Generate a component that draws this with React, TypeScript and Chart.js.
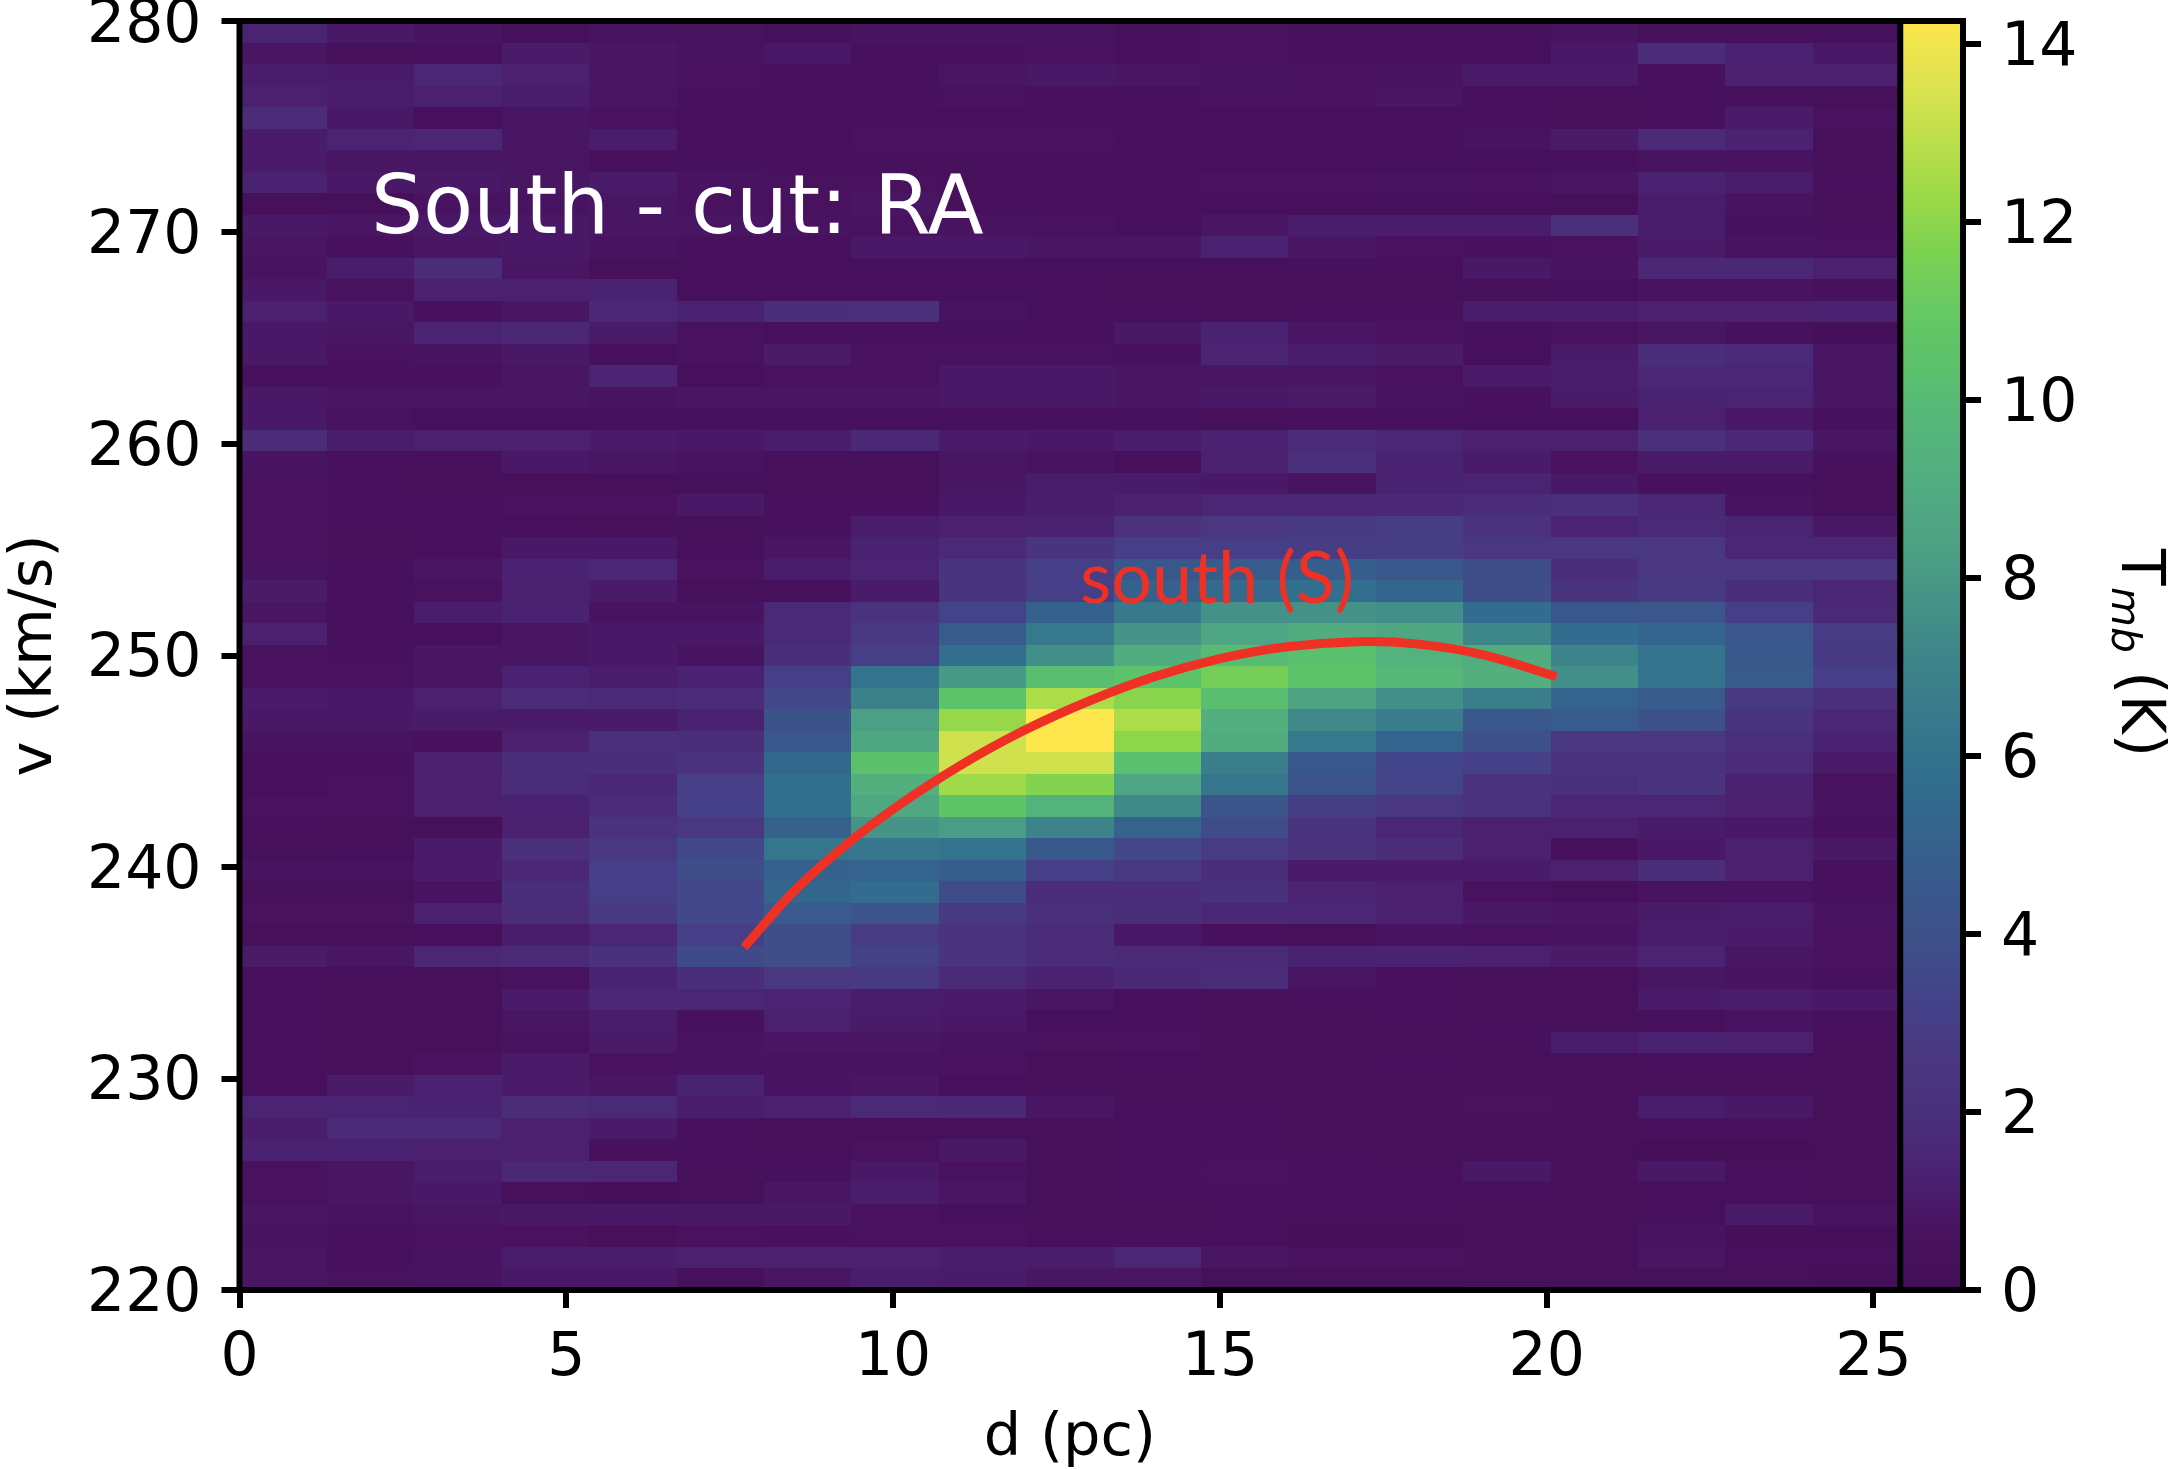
import React, { useEffect, useRef } from "react";
import { Chart, registerables } from "chart.js";

Chart.register(...registerables);

const xTicksMax = 26.37; // axis runs on under the colorbar
const imageMaxD = 25.41;
const vMin = 220;
const vMax = 280;
const tMax = 14.26;

// bottom to top
const cmapStops = [
  "#440e56", "#48125f", "#4a2272", "#4a2f7a", "#493880", "#44428a", "#3e5089", "#38598c", "#34648d",
  "#31708e", "#387a8c", "#3d8589", "#459487", "#4da284", "#52ad80", "#55b67a", "#5bc16c", "#66c962",
  "#7dd251", "#9cd947", "#c0df4c", "#dfe34f", "#fde74c",
];

// T_mb per channel, top row is v = 280, left column is d = 0
const tmbRows = [
  [1.4,.9,.7,.4,.7,.6,.4,.7,.7,.7,.5,.6,.5,.5,.4,.7,.3,.3,.4],
  [.8,.3,.5,1.0,.8,.7,.9,.5,.5,.6,.4,.6,.5,.4,.4,.9,1.8,1.3,.9],
  [1.1,1.0,1.5,1.2,.8,.6,.5,.5,.8,.9,.8,.7,.6,.7,1.0,1.0,.5,1.2,1.2],
  [1.2,1.1,1.2,1.1,.8,.5,.5,.5,.6,.5,.4,.6,.6,.8,.4,.4,.5,.5,.3],
  [1.8,.9,.4,.8,.6,.4,.5,.4,.4,.4,.4,.4,.4,.4,.4,.3,.5,1.0,.6],
  [1.0,1.4,1.5,.8,1.1,.4,.4,.6,.6,.6,.4,.4,.4,.4,.7,1.0,1.7,1.3,.3],
  [1.0,.8,.8,.8,.5,.5,.5,.5,.5,.5,.4,.4,.4,.4,.4,.5,.7,.7,.3],
  [1.3,.9,.9,.8,1.0,.7,.6,.6,.5,.5,.4,.6,.6,.7,.6,.8,1.3,1.1,.4],
  [.3,.3,.7,.7,.8,.6,.6,.8,.5,.5,.4,.4,.4,.4,.4,.3,1.1,.7,.3],
  [.9,.8,.9,.9,.8,.8,.7,.6,.7,.6,.4,.8,1.1,1.1,1.1,2.0,1.1,.5,.5],
  [.8,.5,.8,.9,.7,.5,.5,.9,.9,.8,.8,1.3,.8,.6,.5,.6,1.0,.7,.6],
  [.7,1.1,1.8,.8,.3,.4,.4,.4,.4,.4,.4,.4,.5,.4,.9,.7,1.6,1.6,1.2],
  [.9,.6,1.2,1.2,1.3,.4,.4,.4,.4,.4,.3,.3,.3,.3,.3,.4,.7,.7,.5],
  [1.2,.9,.5,.8,1.6,1.3,1.9,2.0,.7,.5,.4,.3,.5,.5,1.1,1.1,1.2,1.2,1.3],
  [.9,.8,1.4,1.6,1.0,.6,.4,.4,.5,.5,.9,1.3,.8,.6,.5,.6,.8,.5,.2],
  [.9,.6,.7,.9,.4,.6,1.0,.6,.6,.6,.5,1.4,1.1,1.0,.4,1.0,1.9,1.7,.8],
  [.5,.5,.5,.8,1.4,.4,.6,.6,.9,.9,.8,.8,.8,.6,1.0,1.1,1.6,1.5,.8],
  [.9,.8,.8,.8,.7,.8,.8,.8,.9,.9,.8,.9,1.0,.7,.5,1.0,1.3,1.4,.8],
  [.9,.6,.4,.4,.4,.4,.4,.4,.4,.4,.4,.3,.5,.5,.4,.4,1.2,.9,.5],
  [1.8,1.1,1.2,1.2,1.0,.9,1.1,1.6,1.0,.9,1.1,1.3,1.8,1.5,1.2,1.2,2.0,1.6,.8],
  [.7,.4,.4,.9,.8,.7,.3,.3,.8,.7,.3,1.2,2.0,1.3,1.0,.6,1.0,1.0,.5],
  [.6,.4,.3,.3,.3,.3,.3,.3,.8,1.1,1.0,.9,.7,1.3,1.4,.9,.5,.5,.3],
  [.6,.5,.5,.6,.6,.9,.5,.5,.9,1.1,1.2,1.5,1.6,1.6,1.8,2.0,1.6,.7,.3],
  [.6,.4,.4,.4,.3,.3,.5,1.1,1.2,1.3,2.2,2.5,2.7,2.9,2.2,1.4,1.7,1.4,.9],
  [.6,.3,.5,.9,.9,.4,.8,1.3,1.7,2.4,3.0,3.0,2.9,2.9,2.6,2.6,2.5,1.5,1.5],
  [.7,.5,.8,1.3,1.5,.6,1.1,1.4,2.4,3.0,4.5,4.7,4.8,4.4,3.8,1.9,2.5,2.5,2.6],
  [1.0,.5,.6,1.2,1.0,.3,.3,1.0,2.3,3.0,5.0,5.5,5.7,5.3,3.8,2.4,2.7,1.9,1.5],
  [.8,.5,1.1,1.3,.7,.7,1.7,2.2,3.3,5.0,6.5,7.7,7.7,7.5,5.6,4.4,4.3,3.0,1.7],
  [1.2,.5,.4,.8,.9,.9,1.7,2.7,4.7,6.4,7.8,8.6,9.0,8.7,7.2,5.6,5.2,4.3,2.8],
  [.6,.5,.8,.8,.9,.7,1.9,3.0,5.7,7.5,9.0,10.0,10.3,9.4,9.0,7.0,6.0,4.5,2.7],
  [.6,.6,.8,1.3,1.1,1.3,3.0,6.0,8.0,10.2,10.5,11.4,10.5,9.8,9.3,7.5,6.0,4.7,3.0],
  [1.0,.9,1.2,1.8,1.7,1.8,3.5,6.9,10.5,12.6,11.9,10.2,8.5,7.5,6.7,5.2,4.7,2.7,2.0],
  [.9,.9,1.0,1.0,1.0,1.3,4.1,8.3,12.2,14.3,12.6,9.2,7.3,6.6,4.4,4.6,3.9,2.4,1.6],
  [.7,.7,.5,1.2,2.0,1.9,4.4,8.7,13.3,14.3,12.0,9.0,6.4,5.2,3.9,2.6,2.5,2.0,1.3],
  [.4,.5,1.2,1.9,1.9,2.2,5.4,10.4,13.3,13.3,10.3,6.7,4.5,3.4,3.1,2.2,2.2,1.8,1.0],
  [.4,.6,1.2,1.8,1.6,3.0,5.7,9.3,12.4,11.8,8.6,6.2,4.2,3.3,2.2,2.0,2.3,1.3,.6],
  [.6,.6,1.2,1.3,1.8,3.1,5.7,8.8,10.6,9.5,7.3,4.2,2.9,2.5,2.2,1.6,1.5,1.2,.7],
  [.4,.3,.3,1.2,2.2,2.6,5.0,7.8,8.2,7.0,5.1,3.7,2.4,1.5,1.2,1.2,1.0,.9,.5],
  [.3,.4,1.0,2.0,2.6,3.5,6.2,6.3,6.0,4.5,3.5,2.8,2.2,1.8,1.2,.5,.9,1.2,.9],
  [.7,.7,1.0,1.6,3.0,3.8,5.0,5.2,4.8,3.0,2.7,1.9,1.0,1.0,1.0,1.2,1.9,1.2,.5],
  [.3,.3,.7,1.9,3.0,3.5,5.3,5.6,3.7,1.8,1.9,2.1,1.4,1.2,.6,.3,.7,.7,.5],
  [.6,.6,1.2,1.8,2.7,3.5,4.6,4.2,2.7,2.0,1.9,1.6,1.5,1.2,.9,.8,1.0,1.1,.7],
  [.3,.3,.4,1.1,1.5,3.0,3.8,2.8,2.3,1.8,.9,.5,.3,.7,.6,.7,1.1,1.0,.6],
  [1.0,.8,1.5,1.7,2.1,3.6,3.8,3.2,2.3,1.8,1.7,1.7,1.3,1.3,1.2,1.0,1.4,.8,.6],
  [.4,.4,.3,.6,1.3,1.9,2.5,2.7,1.7,1.3,1.6,1.8,.8,.4,.3,.3,.8,.7,.4],
  [.4,.3,.3,1.0,1.6,1.5,1.4,1.1,1.0,.8,.4,.3,.5,.5,.3,.3,1.0,1.1,.9],
  [.4,.3,.3,.8,1.1,.5,1.2,1.0,.9,.4,.5,.3,.3,.5,.5,.3,.4,.7,.4],
  [.4,.3,.3,.6,1.0,.7,.8,.8,.7,.6,.6,.3,.3,.3,.5,1.1,1.3,1.2,.5],
  [.4,.3,.6,1.0,.6,.7,.7,.7,.6,.3,.4,.3,.3,.5,.3,.3,.5,.4,.3],
  [.4,1.0,1.3,1.0,.8,1.3,.7,.8,.4,.3,.3,.3,.3,.3,.3,.3,.3,.3,.3],
  [1.4,1.4,1.3,1.8,1.7,1.1,1.2,1.7,1.6,.8,.5,.5,.3,.3,.6,.5,1.1,.9,.3],
  [1.1,1.7,1.7,1.2,1.0,.4,.3,.3,.3,.3,.4,.4,.3,.3,.3,.3,.5,.5,.3],
  [1.3,1.3,1.2,1.2,.5,.5,.4,.6,.9,.3,.4,.5,.4,.3,.3,.3,.2,.2,.3],
  [.6,.8,1.1,1.6,1.5,.5,.5,.9,.6,.3,.4,.6,.5,.5,.9,.5,.9,.4,.3],
  [.6,.8,.9,.3,.2,.3,.8,1.1,.8,.3,.4,.5,.5,.5,.4,.3,.4,.4,.3],
  [.8,.7,.8,.9,.9,.9,.9,.6,.4,.3,.3,.5,.5,.5,.3,.3,.4,1.0,.7],
  [.7,.5,.6,.6,.3,.6,.5,.6,.6,.4,.5,.4,.2,.2,.3,.3,.7,.2,.2],
  [.8,.5,.7,1.1,1.1,1.2,1.2,1.2,1.1,1.1,1.5,.8,.6,.6,.3,.3,.8,.4,.4],
  [.8,.6,.7,.9,.9,.4,.8,1.1,1.0,.8,.8,.3,.3,.3,.5,.4,.3,.3,.2],
];

const curveD = [7.72, 8.5, 9.3, 10.1, 11, 12, 13, 14, 15, 16, 17.1, 18, 19, 20.15];
const curveV = [236.2, 238.9, 241.1, 242.95, 244.75, 246.45, 247.85, 249, 249.85, 250.4, 250.65, 250.55, 250.05, 249];

const colorFor = (t: number) => {
  const f = Math.min(Math.max(t / tMax, 0), 1) * (cmapStops.length - 1);
  const i = Math.min(Math.floor(f), cmapStops.length - 2);
  const a = parseInt(cmapStops[i].slice(1), 16);
  const b = parseInt(cmapStops[i + 1].slice(1), 16);
  const mix = (s: number) => {
    const p = (a >> s) & 255;
    const q = (b >> s) & 255;
    return Math.round(p + (q - p) * (f - i));
  };
  return `rgb(${mix(16)},${mix(8)},${mix(0)})`;
};

const heatmapPlugin = {
  id: "heatmap",
  beforeDatasetsDraw(chart: any) {
    const { ctx, scales } = chart;
    const dd = imageMaxD / tmbRows[0].length;
    const dv = (vMax - vMin) / tmbRows.length;
    tmbRows.forEach((row, r) => {
      row.forEach((t, c) => {
        const x0 = Math.round(scales.x.getPixelForValue(c * dd));
        const x1 = Math.round(scales.x.getPixelForValue((c + 1) * dd));
        const y0 = Math.round(scales.y.getPixelForValue(vMax - r * dv));
        const y1 = Math.round(scales.y.getPixelForValue(vMax - (r + 1) * dv));
        ctx.fillStyle = colorFor(t);
        ctx.fillRect(x0, y0, x1 - x0, y1 - y0);
      });
    });
    // colorbar
    const left = scales.x.getPixelForValue(imageMaxD);
    const right = scales.x.right;
    const grad = ctx.createLinearGradient(0, scales.y2.getPixelForValue(0), 0, scales.y2.getPixelForValue(tMax));
    cmapStops.forEach((col, i) => grad.addColorStop(i / (cmapStops.length - 1), col));
    ctx.fillStyle = grad;
    ctx.fillRect(left, scales.y2.top, right - left, scales.y2.bottom - scales.y2.top);
  },
  afterDatasetsDraw(chart: any) {
    const { ctx, scales, chartArea } = chart;
    ctx.save();
    ctx.strokeStyle = "#000";
    ctx.lineWidth = 6;
    ctx.strokeRect(chartArea.left, chartArea.top, chartArea.right - chartArea.left, chartArea.bottom - chartArea.top);
    const div = scales.x.getPixelForValue(imageMaxD);
    ctx.beginPath();
    ctx.moveTo(div, chartArea.top);
    ctx.lineTo(div, chartArea.bottom);
    ctx.stroke();

    ctx.textBaseline = "alphabetic";
    ctx.textAlign = "left";
    ctx.fillStyle = "#fff";
    ctx.font = '82px "DejaVu Sans"';
    ctx.fillText("South - cut: RA", 371, 233);

    ctx.fillStyle = "#ee3124";
    ctx.font = "72px Lato";
    ctx.fillText("south (S)", 1080, 603);

    // x title is centred on the image, not on the axis that runs under the colorbar
    ctx.fillStyle = "#000";
    ctx.textAlign = "center";
    ctx.font = '59px "DejaVu Sans"';
    ctx.fillText("d (pc)", scales.x.getPixelForValue(imageMaxD / 2), 1455);

    // colorbar label, reads top to bottom
    ctx.textAlign = "left";
    ctx.translate(2122, 0);
    ctx.rotate(Math.PI / 2);
    ctx.font = '60px "DejaVu Sans"';
    ctx.fillText("T", 549, 0);
    ctx.font = 'italic 41px "DejaVu Sans"';
    ctx.fillText("mb", 587, 10);
    ctx.font = '60px "DejaVu Sans"';
    ctx.fillText("(K)", 671, 0);
    ctx.restore();
  },
};

const App = () => {
  const canvasRef = useRef<HTMLCanvasElement>(null);

  useEffect(() => {
    const font = { family: '"DejaVu Sans"', size: 60 };
    const grid = { drawOnChartArea: false, lineWidth: 6, tickLength: 18, tickColor: "#000" };
    const border = { display: true, color: "#000", width: 6 };
    const chart = new Chart(canvasRef.current as HTMLCanvasElement, {
      type: "scatter",
      data: {
        datasets: [
          {
            data: curveD.map((d, i) => ({ x: d, y: curveV[i] })),
            showLine: true,
            borderColor: "#ee3124",
            borderWidth: 9,
            tension: 0.4,
            pointRadius: 0,
            yAxisID: "y",
          },
        ],
      },
      options: {
        animation: false,
        responsive: false,
        devicePixelRatio: 1,
        layout: { padding: { top: 21, left: 0, right: 0, bottom: 0 } },
        plugins: { legend: { display: false }, tooltip: { enabled: false } },
        scales: {
          x: {
            type: "linear",
            min: 0,
            max: xTicksMax,
            grid,
            border,
            ticks: { stepSize: 5, includeBounds: false, color: "#000", font, padding: 15, maxRotation: 0 },
            afterFit: (s: any) => { s.height = 180; s.paddingLeft = 0; s.paddingRight = 0; },
          },
          y: {
            type: "linear",
            min: vMin,
            max: vMax,
            grid,
            border,
            ticks: { stepSize: 10, color: "#000", font, padding: 20, labelOffset: 5 },
            title: { display: true, text: "v (km/s)", color: "#000", font: { family: font.family, size: 59 }, padding: 0 },
            afterFit: (s: any) => { s.width = 239.5; s.paddingTop = 0; s.paddingBottom = 0; },
          },
          y2: {
            type: "linear",
            position: "right",
            min: 0,
            max: tMax,
            grid,
            border,
            ticks: { stepSize: 2, includeBounds: false, color: "#000", font, padding: 20, labelOffset: 5 },
            afterFit: (s: any) => { s.width = 209; s.paddingTop = 0; s.paddingBottom = 0; },
          },
        },
      } as any,
      plugins: [heatmapPlugin],
    });
    return () => chart.destroy();
  }, []);

  return (
    <div style={{ position: "absolute", left: 0, top: 0, width: 2172, height: 1470, background: "#fff" }}>
      <canvas ref={canvasRef} width={2172} height={1470} style={{ display: "block" }} />
    </div>
  );
};

export default App;
